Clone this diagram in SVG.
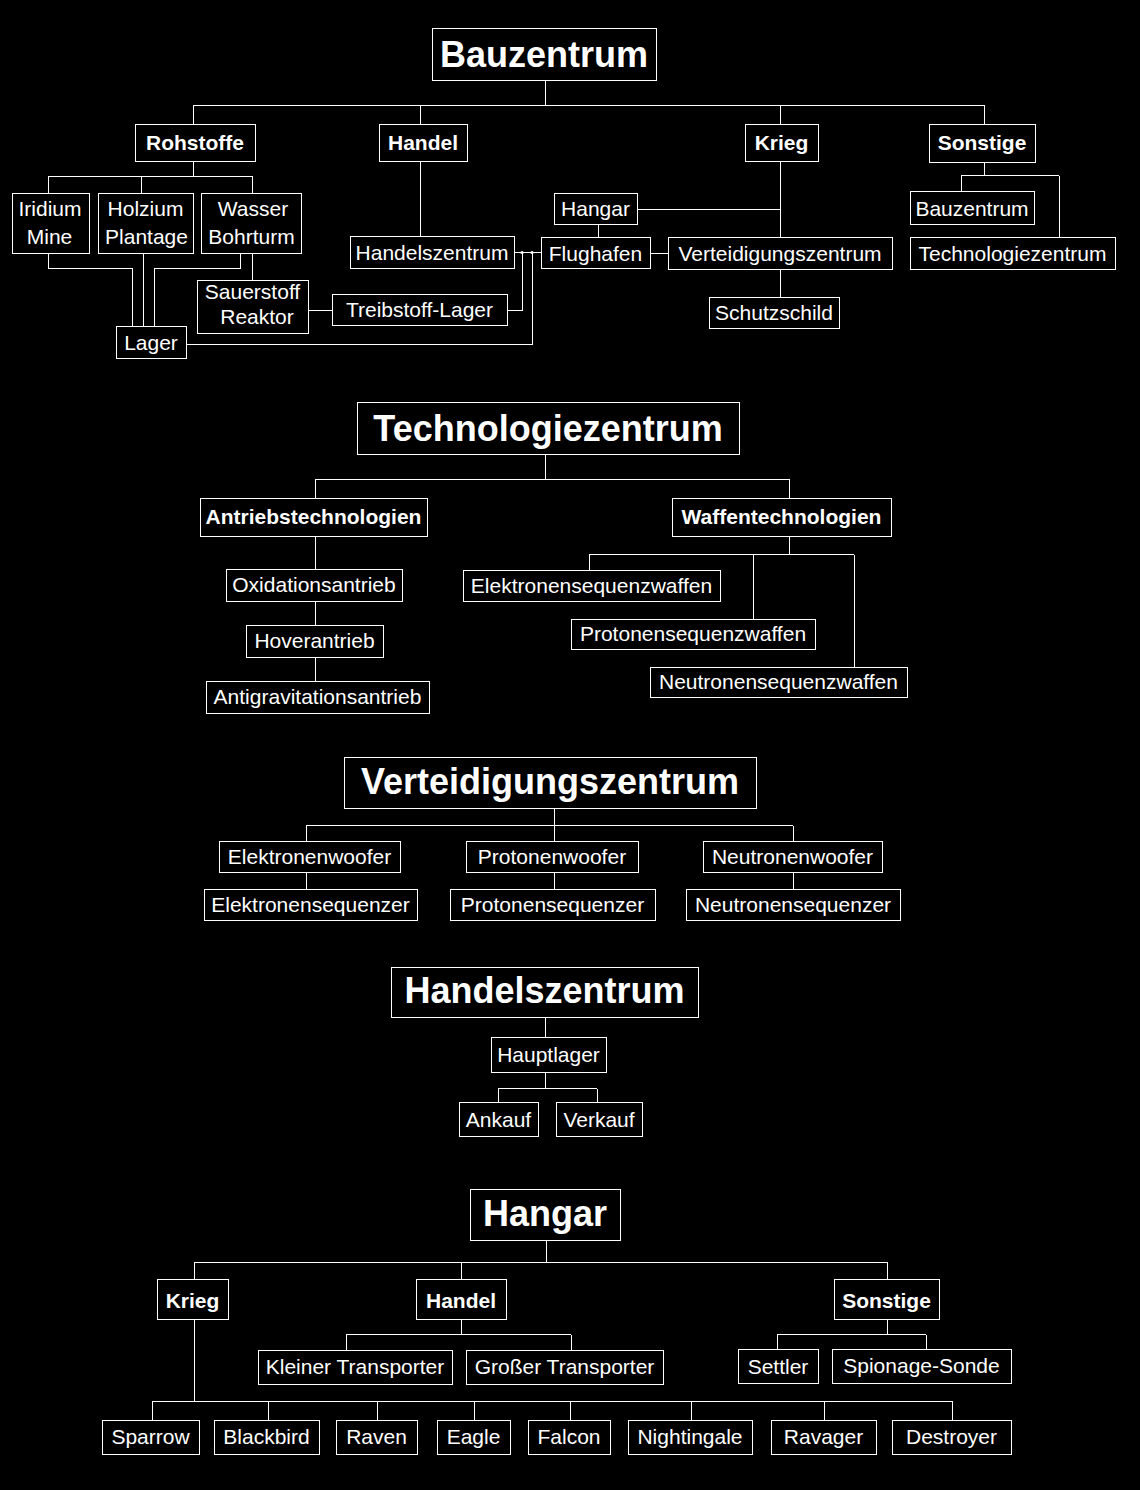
<svg xmlns="http://www.w3.org/2000/svg" width="1140" height="1490" viewBox="0 0 1140 1490">
<style>
rect.n{fill:#000;stroke:#fff;stroke-width:1;shape-rendering:crispEdges}
text{font-family:"Liberation Sans",Arial,sans-serif;fill:#fff;text-anchor:middle}
.r{font-size:21px}
.b{font-size:21px;font-weight:bold}
.h{font-size:36px;font-weight:bold}
#connectors path{fill:none;stroke:#fff;stroke-width:1;shape-rendering:crispEdges}
#connectors circle{fill:#fff}
</style>
<rect x="0" y="0" width="1140" height="1490" fill="#000"/>
<g id="connectors">
<path d="M545.5,80V105.5M193,105.5H984.5M193,105.5V124M420.5,105.5V124M780.5,105.5V124M984.5,105.5V124"/>
<path d="M193,161V176M48,176H252.5M48,176V193M141.5,176V193M252.5,176V193"/>
<path d="M48,253V268H132V326M143,253V326M240,253V268H154V326M252.5,253V280"/>
<path d="M308,310H332M507,310H522V252.5M186,344H532V252.5M514,252.5H541"/>
<path d="M420.5,161V236"/>
<path d="M598,224V237M637,209.5H780.5M780.5,161V237M650,253H668M780.5,269V297"/>
<path d="M984.5,162V175.5M961,175.5H1059M961,175.5V191M1059,175.5V237"/>
<circle cx="522" cy="252.5" r="1.6"/><circle cx="532" cy="252.5" r="1.6"/>
<path d="M545.5,454V479.5M315,479.5H789.5M315,479.5V498M789.5,479.5V498"/>
<path d="M315,536V569M315,601V625M315,657V681"/>
<path d="M789.5,536V554.5M589,554.5H854M589,554.5V570M753,554.5V619M854,554.5V667"/>
<path d="M554,808V825.5M306,825.5H793M306,825.5V841M554,825.5V841M793,825.5V841"/>
<path d="M306,872V889M554,872V889M793,872V889"/>
<path d="M545,1017V1037M545,1072V1088.5M498,1088.5H597M498,1088.5V1102M597,1088.5V1102"/>
<path d="M546.5,1240V1262.5M194,1262.5H887.5M194,1262.5V1279M461,1262.5V1279M887.5,1262.5V1279"/>
<path d="M461,1319V1334.5M346,1334.5H571M346,1334.5V1350M571,1334.5V1350"/>
<path d="M887.5,1319V1334.5M777,1334.5H926M777,1334.5V1349M926,1334.5V1349"/>
<path d="M194,1319V1401.5M152,1401.5H952.5M152,1401.5V1420M268.5,1401.5V1420M377,1401.5V1420M474,1401.5V1420M570.5,1401.5V1420M691.5,1401.5V1420M824,1401.5V1420M952.5,1401.5V1420"/>
</g>

<g id="bauzentrum"><rect class="n" x="432" y="28" width="224" height="52"/><text class="h" x="544" y="67">Bauzentrum</text></g>
<g id="rohstoffe"><rect class="n" x="135" y="124" width="120" height="37"/><text class="b" x="195" y="150">Rohstoffe</text></g>
<g id="handel"><rect class="n" x="379" y="124" width="88" height="37"/><text class="b" x="423" y="150">Handel</text></g>
<g id="krieg"><rect class="n" x="745" y="124" width="73" height="37"/><text class="b" x="781.5" y="150">Krieg</text></g>
<g id="sonstige"><rect class="n" x="929" y="124" width="106" height="38"/><text class="b" x="982" y="150">Sonstige</text></g>
<g id="iridium-mine"><rect class="n" x="12" y="193" width="77" height="60"/><text class="r" x="50" y="216">Iridium</text><text class="r" x="49.5" y="244">Mine</text></g>
<g id="holzium-plantage"><rect class="n" x="98" y="193" width="95" height="60"/><text class="r" x="145.5" y="216">Holzium</text><text class="r" x="146.5" y="244">Plantage</text></g>
<g id="wasser-bohrturm"><rect class="n" x="201" y="193" width="100" height="60"/><text class="r" x="253" y="216">Wasser</text><text class="r" x="251.5" y="244">Bohrturm</text></g>
<g id="sauerstoff-reaktor"><rect class="n" x="197" y="280" width="111" height="53"/><text class="r" x="252.5" y="299">Sauerstoff</text><text class="r" x="257" y="324">Reaktor</text></g>
<g id="treibstoff-lager"><rect class="n" x="332" y="294" width="175" height="31"/><text class="r" x="419.5" y="317">Treibstoff-Lager</text></g>
<g id="lager"><rect class="n" x="116" y="326" width="70" height="32"/><text class="r" x="151" y="350">Lager</text></g>
<g id="handelszentrum-1"><rect class="n" x="350" y="236" width="164" height="32"/><text class="r" x="432" y="259.5">Handelszentrum</text></g>
<g id="hangar-1"><rect class="n" x="554" y="193" width="83" height="31"/><text class="r" x="595.5" y="216">Hangar</text></g>
<g id="flughafen"><rect class="n" x="541" y="237" width="109" height="31"/><text class="r" x="595.5" y="260.5">Flughafen</text></g>
<g id="verteidigungszentrum-1"><rect class="n" x="668" y="237" width="224" height="32"/><text class="r" x="780" y="260.5">Verteidigungszentrum</text></g>
<g id="schutzschild"><rect class="n" x="709" y="297" width="130" height="31"/><text class="r" x="774" y="320">Schutzschild</text></g>
<g id="bauzentrum-2"><rect class="n" x="910" y="191" width="124" height="33"/><text class="r" x="972" y="216">Bauzentrum</text></g>
<g id="technologiezentrum-1"><rect class="n" x="910" y="237" width="205" height="32"/><text class="r" x="1012.5" y="260.5">Technologiezentrum</text></g>

<g id="technologiezentrum"><rect class="n" x="357" y="402" width="382" height="52"/><text class="h" x="548" y="440.5">Technologiezentrum</text></g>
<g id="antriebstechnologien"><rect class="n" x="200" y="498" width="227" height="38"/><text class="b" x="313.5" y="524">Antriebstechnologien</text></g>
<g id="waffentechnologien"><rect class="n" x="672" y="498" width="219" height="38"/><text class="b" x="781.5" y="524">Waffentechnologien</text></g>
<g id="oxidationsantrieb"><rect class="n" x="226" y="569" width="176" height="32"/><text class="r" x="314" y="592">Oxidationsantrieb</text></g>
<g id="hoverantrieb"><rect class="n" x="246" y="625" width="137" height="32"/><text class="r" x="314.5" y="648">Hoverantrieb</text></g>
<g id="antigravitationsantrieb"><rect class="n" x="206" y="681" width="223" height="32"/><text class="r" x="317.5" y="704">Antigravitationsantrieb</text></g>
<g id="elektronensequenzwaffen"><rect class="n" x="463" y="570" width="257" height="31"/><text class="r" x="591.5" y="593">Elektronensequenzwaffen</text></g>
<g id="protonensequenzwaffen"><rect class="n" x="571" y="619" width="244" height="30"/><text class="r" x="693" y="641">Protonensequenzwaffen</text></g>
<g id="neutronensequenzwaffen"><rect class="n" x="650" y="667" width="257" height="30"/><text class="r" x="778.5" y="689">Neutronensequenzwaffen</text></g>

<g id="verteidigungszentrum"><rect class="n" x="344" y="757" width="412" height="51"/><text class="h" x="550" y="794">Verteidigungszentrum</text></g>
<g id="elektronenwoofer"><rect class="n" x="219" y="841" width="181" height="31"/><text class="r" x="309.5" y="864">Elektronenwoofer</text></g>
<g id="protonenwoofer"><rect class="n" x="466" y="841" width="172" height="31"/><text class="r" x="552" y="864">Protonenwoofer</text></g>
<g id="neutronenwoofer"><rect class="n" x="703" y="841" width="179" height="31"/><text class="r" x="792.5" y="864">Neutronenwoofer</text></g>
<g id="elektronensequenzer"><rect class="n" x="204" y="889" width="213" height="31"/><text class="r" x="310.5" y="912">Elektronensequenzer</text></g>
<g id="protonensequenzer"><rect class="n" x="450" y="889" width="205" height="31"/><text class="r" x="552.5" y="912">Protonensequenzer</text></g>
<g id="neutronensequenzer"><rect class="n" x="686" y="889" width="214" height="31"/><text class="r" x="793" y="912">Neutronensequenzer</text></g>

<g id="handelszentrum"><rect class="n" x="391" y="967" width="307" height="50"/><text class="h" x="544.5" y="1003">Handelszentrum</text></g>
<g id="hauptlager"><rect class="n" x="491" y="1037" width="115" height="35"/><text class="r" x="548.5" y="1062">Hauptlager</text></g>
<g id="ankauf"><rect class="n" x="459" y="1102" width="79" height="34"/><text class="r" x="498.5" y="1127">Ankauf</text></g>
<g id="verkauf"><rect class="n" x="556" y="1102" width="86" height="34"/><text class="r" x="599" y="1127">Verkauf</text></g>

<g id="hangar"><rect class="n" x="470" y="1189" width="150" height="51"/><text class="h" x="545" y="1226">Hangar</text></g>
<g id="hangar-krieg"><rect class="n" x="157" y="1279" width="71" height="40"/><text class="b" x="192.5" y="1308">Krieg</text></g>
<g id="hangar-handel"><rect class="n" x="416" y="1279" width="90" height="40"/><text class="b" x="461" y="1308">Handel</text></g>
<g id="hangar-sonstige"><rect class="n" x="834" y="1279" width="105" height="40"/><text class="b" x="886.5" y="1308">Sonstige</text></g>
<g id="kleiner-transporter"><rect class="n" x="258" y="1350" width="194" height="34"/><text class="r" x="355" y="1374">Kleiner Transporter</text></g>
<g id="grosser-transporter"><rect class="n" x="466" y="1350" width="197" height="34"/><text class="r" x="564.5" y="1374">Großer Transporter</text></g>
<g id="settler"><rect class="n" x="738" y="1349" width="80" height="34"/><text class="r" x="778" y="1374">Settler</text></g>
<g id="spionage-sonde"><rect class="n" x="832" y="1349" width="179" height="34"/><text class="r" x="921.5" y="1372.5">Spionage-Sonde</text></g>
<g id="sparrow"><rect class="n" x="102" y="1420" width="97" height="34"/><text class="r" x="150.5" y="1444">Sparrow</text></g>
<g id="blackbird"><rect class="n" x="214" y="1420" width="105" height="34"/><text class="r" x="266.5" y="1444">Blackbird</text></g>
<g id="raven"><rect class="n" x="336" y="1420" width="81" height="34"/><text class="r" x="376.5" y="1444">Raven</text></g>
<g id="eagle"><rect class="n" x="437" y="1420" width="73" height="34"/><text class="r" x="473.5" y="1444">Eagle</text></g>
<g id="falcon"><rect class="n" x="528" y="1420" width="82" height="34"/><text class="r" x="569" y="1444">Falcon</text></g>
<g id="nightingale"><rect class="n" x="628" y="1420" width="124" height="34"/><text class="r" x="690" y="1444">Nightingale</text></g>
<g id="ravager"><rect class="n" x="771" y="1420" width="105" height="34"/><text class="r" x="823.5" y="1444">Ravager</text></g>
<g id="destroyer"><rect class="n" x="892" y="1420" width="119" height="34"/><text class="r" x="951.5" y="1444">Destroyer</text></g>
</svg>
